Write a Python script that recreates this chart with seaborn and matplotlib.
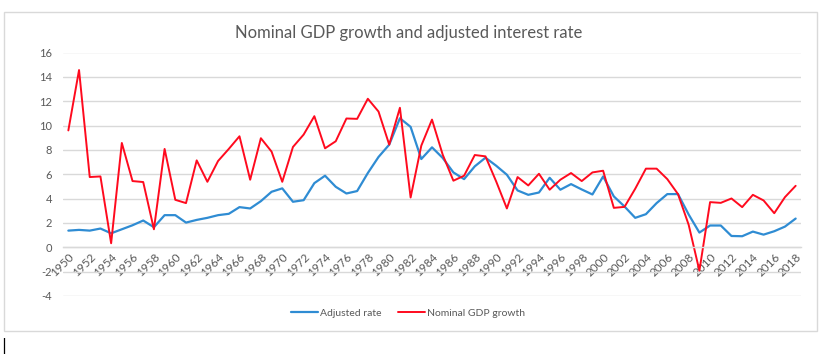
import matplotlib
matplotlib.use("Agg")
import matplotlib.pyplot as plt
import seaborn as sns
import pandas as pd
from matplotlib.patches import Rectangle

years = list(range(1950, 2019))

adjusted_rate = [
    1.37, 1.43, 1.37, 1.54, 1.15, 1.48, 1.81, 2.20, 1.65, 2.64,
    2.64, 2.03, 2.25, 2.42, 2.64, 2.75, 3.30, 3.19, 3.79, 4.56,
    4.84, 3.74, 3.87, 5.27, 5.88, 4.97, 4.42, 4.62, 6.10, 7.42,
    8.43, 10.60, 9.89, 7.25, 8.21, 7.34, 6.15, 5.60, 6.65, 7.36,
    6.70, 5.96, 4.67, 4.31, 4.50, 5.71, 4.73, 5.19, 4.75, 4.34,
    5.82, 4.18, 3.35, 2.42, 2.72, 3.63, 4.37, 4.37, 2.69, 1.21,
    1.79, 1.79, 0.93, 0.91, 1.29, 1.04, 1.32, 1.70, 2.36,
]

nominal_gdp = [
    9.60, 14.56, 5.77, 5.82, 0.33, 8.57, 5.44, 5.36, 1.48, 8.08,
    3.90, 3.63, 7.14, 5.38, 7.09, 8.08, 9.12, 5.55, 8.96, 7.86,
    5.38, 8.24, 9.26, 10.77, 8.13, 8.71, 10.58, 10.55, 12.20, 11.15,
    8.43, 11.46, 4.09, 8.35, 10.49, 7.61, 5.47, 5.88, 7.58, 7.47,
    5.41, 3.19, 5.77, 5.08, 6.04, 4.73, 5.55, 6.10, 5.44, 6.15,
    6.29, 3.24, 3.32, 4.81, 6.46, 6.46, 5.60, 4.37, 1.84, -1.92,
    3.71, 3.65, 4.01, 3.30, 4.31, 3.85, 2.80, 4.12, 5.05,
]

yticks = list(range(-4, 17, 2))
xtick_years = years[::2]

df = pd.DataFrame({"year": years, "Adjusted rate": adjusted_rate,
                   "Nominal GDP growth": nominal_gdp})

sns.set_theme(style="white")
plt.rcParams["font.family"] = ["Lato", "DejaVu Sans"]

grey_text = "#595959"
grid_col = "#D9D9D9"

fig = plt.figure(figsize=(8.24, 3.54), dpi=100)
ax = fig.add_axes([63 / 824, 1 - 296 / 354, 738 / 824, (296 - 52.5) / 354])

sns.lineplot(data=df, x="year", y="Adjusted rate", ax=ax, color="#2F8CD3",
             linewidth=1.6, label="Adjusted rate")
sns.lineplot(data=df, x="year", y="Nominal GDP growth", ax=ax, color="#FF0A1E",
             linewidth=1.4, label="Nominal GDP growth")

ax.set_xlim(1949.5, 2018.5)
ax.set_ylim(-4, 16)
ax.set_yticks(yticks)
ax.set_yticklabels([str(v) for v in yticks])
ax.set_xticks(xtick_years)
ax.set_xticklabels([str(y) for y in xtick_years])
ax.set_xlabel("")
ax.set_ylabel("")

ax.grid(axis="y", color=grid_col, linewidth=1.0)
ax.set_axisbelow(True)
for side in ["left", "right", "top"]:
    ax.spines[side].set_visible(False)
ax.spines["bottom"].set_position(("data", 0))
ax.spines["bottom"].set_color(grid_col)
ax.spines["bottom"].set_linewidth(1.0)
ax.tick_params(axis="both", length=0, colors=grey_text, labelsize=8)
ax.tick_params(axis="y", pad=8)
ax.tick_params(axis="x", pad=3, labelsize=8.5)
plt.setp(ax.get_xticklabels(), rotation=45, ha="right", va="top",
         rotation_mode="anchor")

ax.get_legend().remove()
handles, labels = ax.get_legend_handles_labels()
fig.legend(handles, labels, loc="center", bbox_to_anchor=(408 / 824, 1 - 313 / 354),
           ncol=2, frameon=False, fontsize=7.5, handlelength=2.6,
           handletextpad=0.2, columnspacing=1.6, labelcolor=grey_text)

fig.text(409 / 824, 1 - 33 / 354, "Nominal GDP growth and adjusted interest rate",
         ha="center", va="center", fontsize=12, color=grey_text)

fig.patches.append(Rectangle((3.5 / 824, 1 - 331 / 354), (816.5 - 3.5) / 824,
                             (331 - 12) / 354, transform=fig.transFigure,
                             fill=False, edgecolor=grid_col, linewidth=1.0))
fig.text(4 / 824, 1 - 346 / 354, "|", ha="center", va="center", fontsize=11,
         color="black", family="DejaVu Sans")

fig.savefig("out.png", dpi=100)
